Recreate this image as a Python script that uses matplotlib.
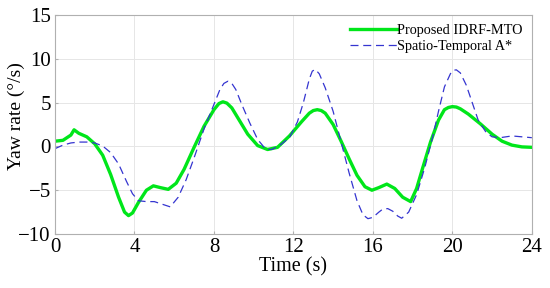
import matplotlib
matplotlib.use("Agg")
import matplotlib.pyplot as plt

t_prop = [0, 0.4, 0.8, 0.96, 1.2, 1.6, 2.0, 2.4, 2.8, 3.2, 3.5, 3.7, 3.9, 4.2, 4.6, 4.95, 5.3, 5.7,
          6.1, 6.5, 7.0, 7.5, 8.0, 8.25, 8.45, 8.65, 8.9, 9.3, 9.7, 10.2, 10.7, 11.2, 11.8, 12.4,
          12.8, 13.0, 13.2, 13.4, 13.6, 14.0, 14.4, 14.8, 15.2, 15.6, 15.95, 16.3, 16.7, 17.1,
          17.5, 17.9, 18.2, 18.5, 18.9, 19.3, 19.6, 19.8, 20.0, 20.2, 20.4, 20.8, 21.4, 22.0,
          22.5, 23.0, 23.5, 24.0]
y_prop = [0.6, 0.7, 1.3, 1.9, 1.5, 1.1, 0.3, -1.0, -3.2, -5.8, -7.5, -7.9, -7.6, -6.4, -5.0, -4.5,
          -4.7, -4.9, -4.2, -2.6, -0.1, 2.3, 4.2, 4.9, 5.1, 4.95, 4.4, 2.9, 1.4, 0.1, -0.35, -0.1,
          1.2, 2.8, 3.8, 4.1, 4.2, 4.1, 3.8, 2.5, 0.6, -1.4, -3.3, -4.6, -5.0, -4.7, -4.3, -4.8,
          -5.8, -6.3, -4.8, -2.5, 0.5, 3.0, 4.2, 4.45, 4.55, 4.5, 4.3, 3.7, 2.6, 1.4, 0.6, 0.15,
          -0.05, -0.1]

t_astar = [0, 0.4, 0.8, 1.2, 1.6, 2.0, 2.4, 2.8, 3.2, 3.6, 3.9, 4.2, 4.6, 5.0, 5.4, 5.8, 6.2, 6.6,
           7.0, 7.5, 8.0, 8.3, 8.5, 8.7, 8.9, 9.1, 9.4, 9.8, 10.2, 10.6, 10.9, 11.3, 11.8, 12.2,
           12.5, 12.8, 12.95, 13.1, 13.3, 13.6, 14.0, 14.4, 14.8, 15.2, 15.5, 15.75, 16.0, 16.3,
           16.5, 16.75, 17.0, 17.25, 17.45, 17.8, 18.2, 18.6, 19.0, 19.3, 19.6, 19.9, 20.05,
           20.2, 20.4, 20.7, 21.0, 21.3, 21.7, 22.0, 22.4, 23.0, 23.5, 24.0]
y_astar = [-0.25, 0.15, 0.4, 0.5, 0.5, 0.4, 0.05, -0.7, -2.0, -4.0, -5.4, -6.2, -6.3, -6.3, -6.6,
           -6.9, -5.8, -3.8, -1.3, 2.0, 4.8, 6.5, 7.2, 7.45, 7.2, 6.5, 4.8, 2.7, 0.8, -0.3, -0.35,
           0.1, 1.0, 2.8, 5.0, 7.7, 8.6, 8.8, 8.3, 6.7, 4.0, 0.5, -3.0, -6.2, -7.8, -8.25, -8.1,
           -7.5, -7.15, -7.1, -7.4, -7.95, -8.2, -7.5, -5.5, -2.5, 1.0, 4.0, 6.8, 8.3, 8.7, 8.75,
           8.4, 7.0, 5.0, 3.0, 1.6, 1.1, 1.0, 1.2, 1.1, 1.0]

x_ticks = [0, 4, 8, 12, 16, 20, 24]
y_ticks = [-10, -5, 0, 5, 10, 15]
labels = ["Proposed IDRF-MTO", "Spatio-Temporal A*"]

plt.rcParams['font.family'] = ['Liberation Serif', 'DejaVu Serif']
plt.rcParams['axes.unicode_minus'] = True

fig = plt.figure(figsize=(5.5, 2.88), dpi=100)
ax = fig.add_axes([0.1, 0.1875, 0.867, 0.760])

ax.plot(t_prop, y_prop, color='#00e61a', lw=2.4, label=labels[0], solid_joinstyle='round')
ax.plot(t_astar, y_astar, color='#3535d0', lw=0.9, ls=(0, (6.4, 3.8)), label=labels[1])

ax.set_xlim(0, 24)
ax.set_ylim(-10, 15)
ax.set_xticks(x_ticks)
ax.set_yticks(y_ticks)
ax.grid(True, color='#e6e6e6', lw=0.7)
ax.set_axisbelow(True)
for s in ax.spines.values():
    s.set_color('#b0b0b0')
    s.set_linewidth(0.8)
ax.tick_params(direction='in', length=2, color='#b0b0b0', labelsize=15, pad=3)
ax.set_xlabel("Time (s)", fontsize=14.5, labelpad=0)
ax.set_ylabel("Yaw rate (°/s)", fontsize=14, va='center')
ax.yaxis.set_label_coords(-0.082, 0.54)

leg = ax.legend(loc='upper right', frameon=False, fontsize=10.3, handlelength=3.3,
                handletextpad=0.0, borderaxespad=0.25, labelspacing=0.15)

fig.savefig("out.png", dpi=100)
